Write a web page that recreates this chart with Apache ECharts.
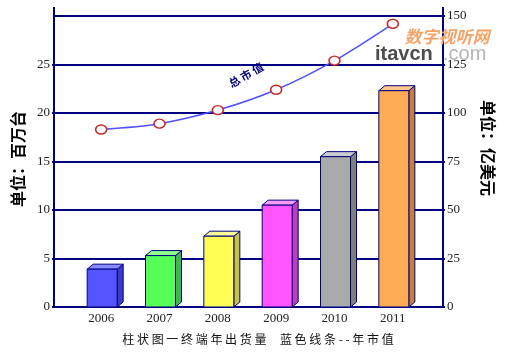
<!DOCTYPE html>
<html>
<head>
<meta charset="utf-8">
<script src="https://cdn.jsdelivr.net/npm/echarts@6/dist/echarts.min.js"></script>
<style>
  html, body { margin: 0; padding: 0; background: #fff; }
  #chart { width: 506px; height: 352px; }
</style>
</head>
<body>
<div id="chart"></div>
<script>
// 数据
var years = ['2006', '2007', '2008', '2009', '2010', '2011'];
var shipments = [3.9, 5.3, 7.3, 10.5, 15.5, 22.3];      // 百万台
var marketValue = [91.5, 94.5, 101.5, 112, 127, 146];   // 亿美元
var leftTicks = [0, 30, 5];
var rightTicks = [0, 150, 25];

// 柱子三种面的颜色: 正面 / 侧面 / 顶面
var barFront = ['#5555ff', '#55ff55', '#ffff55', '#ff55ff', '#aaaaaa', '#ffaa55'];
var barSide  = ['#3b3bc8', '#3dbb3d', '#c8c43c', '#bb3fbb', '#7e7e7e', '#c2803f'];
var barTop   = ['#8888ff', '#8cff8c', '#ffff9a', '#ff9aff', '#cccccc', '#ffc690'];

var navy = '#000080';
var labelFont = 'Liberation Serif';
var cjkFont = 'Noto Sans CJK SC';

var myCharts = echarts.init(document.getElementById('chart'));

function render3dBar(params, api) {
    var i = api.value(0);
    var top = api.coord([i, api.value(1)]);
    var base = api.coord([i, 0]);
    var w = 30, dx = 6, dy = 5;
    var x0 = top[0] - 14;
    var x1 = x0 + w;
    var lineStyle = { stroke: navy, lineWidth: 1 };
    return {
        type: 'group',
        children: [
            {
                type: 'polygon',
                shape: { points: [[x1, top[1]], [x1 + dx, top[1] - dy], [x1 + dx, base[1] - dy], [x1, base[1]]] },
                style: Object.assign({ fill: barSide[i] }, lineStyle)
            },
            {
                type: 'polygon',
                shape: { points: [[x0, top[1]], [x0 + dx, top[1] - dy], [x1 + dx, top[1] - dy], [x1, top[1]]] },
                style: Object.assign({ fill: barTop[i] }, lineStyle)
            },
            {
                type: 'rect',
                shape: { x: x0, y: top[1], width: w, height: base[1] - top[1] },
                style: Object.assign({ fill: barFront[i] }, lineStyle)
            }
        ]
    };
}

var spaced = function (s) { return s.split('').join(' '); };

myCharts.setOption({
    backgroundColor: '#fff',
    animation: false,
    grid: [
        // 轴和网格线
        { left: 54, right: 63, top: 16, bottom: 45 },
        // 柱子和折线
        { left: 72, right: 84, top: 16, bottom: 45 }
    ],
    xAxis: [
        { gridIndex: 0, type: 'category', data: years, show: false },
        {
            gridIndex: 1,
            type: 'category',
            data: years,
            boundaryGap: true,
            axisLine: { show: false },
            axisTick: { show: false },
            axisLabel: { color: '#222', fontFamily: labelFont, fontSize: 13, margin: 5 }
        }
    ],
    yAxis: [
        {
            gridIndex: 0,
            type: 'value',
            min: leftTicks[0], max: leftTicks[1], interval: leftTicks[2],
            axisLine: { show: true, lineStyle: { color: navy, width: 2 }, symbol: ['none', 'rect'], symbolSize: [2, 18] },
            axisTick: { show: true, length: 2, lineStyle: { color: navy, width: 2 } },
            axisLabel: { color: '#222', fontFamily: labelFont, fontSize: 13, margin: 4, showMaxLabel: false },
            splitLine: { show: true, lineStyle: { color: navy, width: 2 } }
        },
        {
            gridIndex: 0,
            type: 'value',
            position: 'right',
            min: rightTicks[0], max: rightTicks[1], interval: rightTicks[2],
            axisLine: { show: true, lineStyle: { color: navy, width: 2 }, symbol: ['none', 'rect'], symbolSize: [2, 18] },
            axisTick: { show: true, length: 2, lineStyle: { color: navy, width: 2 } },
            axisLabel: { color: '#222', fontFamily: labelFont, fontSize: 13, margin: 4 },
            splitLine: { show: false }
        },
        { gridIndex: 1, type: 'value', min: leftTicks[0], max: leftTicks[1], show: false },
        { gridIndex: 1, type: 'value', min: rightTicks[0], max: rightTicks[1], show: false }
    ],
    series: [
        {
            type: 'custom',
            xAxisIndex: 1,
            yAxisIndex: 2,
            renderItem: render3dBar,
            data: shipments.map(function (v, i) { return [i, v]; }),
            z: 3
        },
        {
            type: 'line',
            xAxisIndex: 1,
            yAxisIndex: 3,
            data: marketValue,
            smooth: 0.3,
            lineStyle: { color: '#5050ff', width: 1.5 },
            symbol: 'circle',
            symbolSize: [11, 9],
            itemStyle: { color: '#fff', borderColor: '#cc2a2a', borderWidth: 1.5 },
            z: 4
        }
    ],
    graphic: [
        {
            type: 'text', x: 18, y: 159, rotation: Math.PI / 2,
            style: { text: '单位：百万台', font: 'bold 16px "' + cjkFont + '"', fill: '#000', align: 'center', verticalAlign: 'middle' }
        },
        {
            type: 'text', x: 488, y: 148, rotation: -Math.PI / 2,
            style: { text: '单位：亿美元', font: 'bold 16px "' + cjkFont + '"', fill: '#000', align: 'center', verticalAlign: 'middle' }
        },
        {
            type: 'text', x: 246, y: 75, rotation: Math.PI / 6,
            style: { text: '总 市 值', font: 'bold 11px "' + cjkFont + '"', fill: navy, align: 'center', verticalAlign: 'middle' }
        },
        {
            type: 'text', x: 258, y: 339,
            style: {
                text: spaced('柱状图一终端年出货量') + '     ' + spaced('蓝色线条--年市值'),
                font: '12px "' + cjkFont + '"', fill: '#111', align: 'center', verticalAlign: 'middle'
            }
        },
        // 右上角水印文字
        {
            type: 'text', x: 447, y: 37, z: 10,
            style: { text: '数字视听网', font: 'italic bold 17px "' + cjkFont + '"', fill: '#f5a468', align: 'center', verticalAlign: 'middle' }
        },
        {
            type: 'text', x: 375, y: 54, z: 10,
            style: { text: 'itavcn', font: 'bold 20px "Liberation Sans"', fill: '#4d4d4d', align: 'left', verticalAlign: 'middle' }
        },
        {
            type: 'text', x: 443, y: 54, z: 1,
            style: { text: '.com', font: '20px "Liberation Sans"', fill: '#b5b5b5', align: 'left', verticalAlign: 'middle' }
        }
    ]
});
</script>
</body>
</html>
